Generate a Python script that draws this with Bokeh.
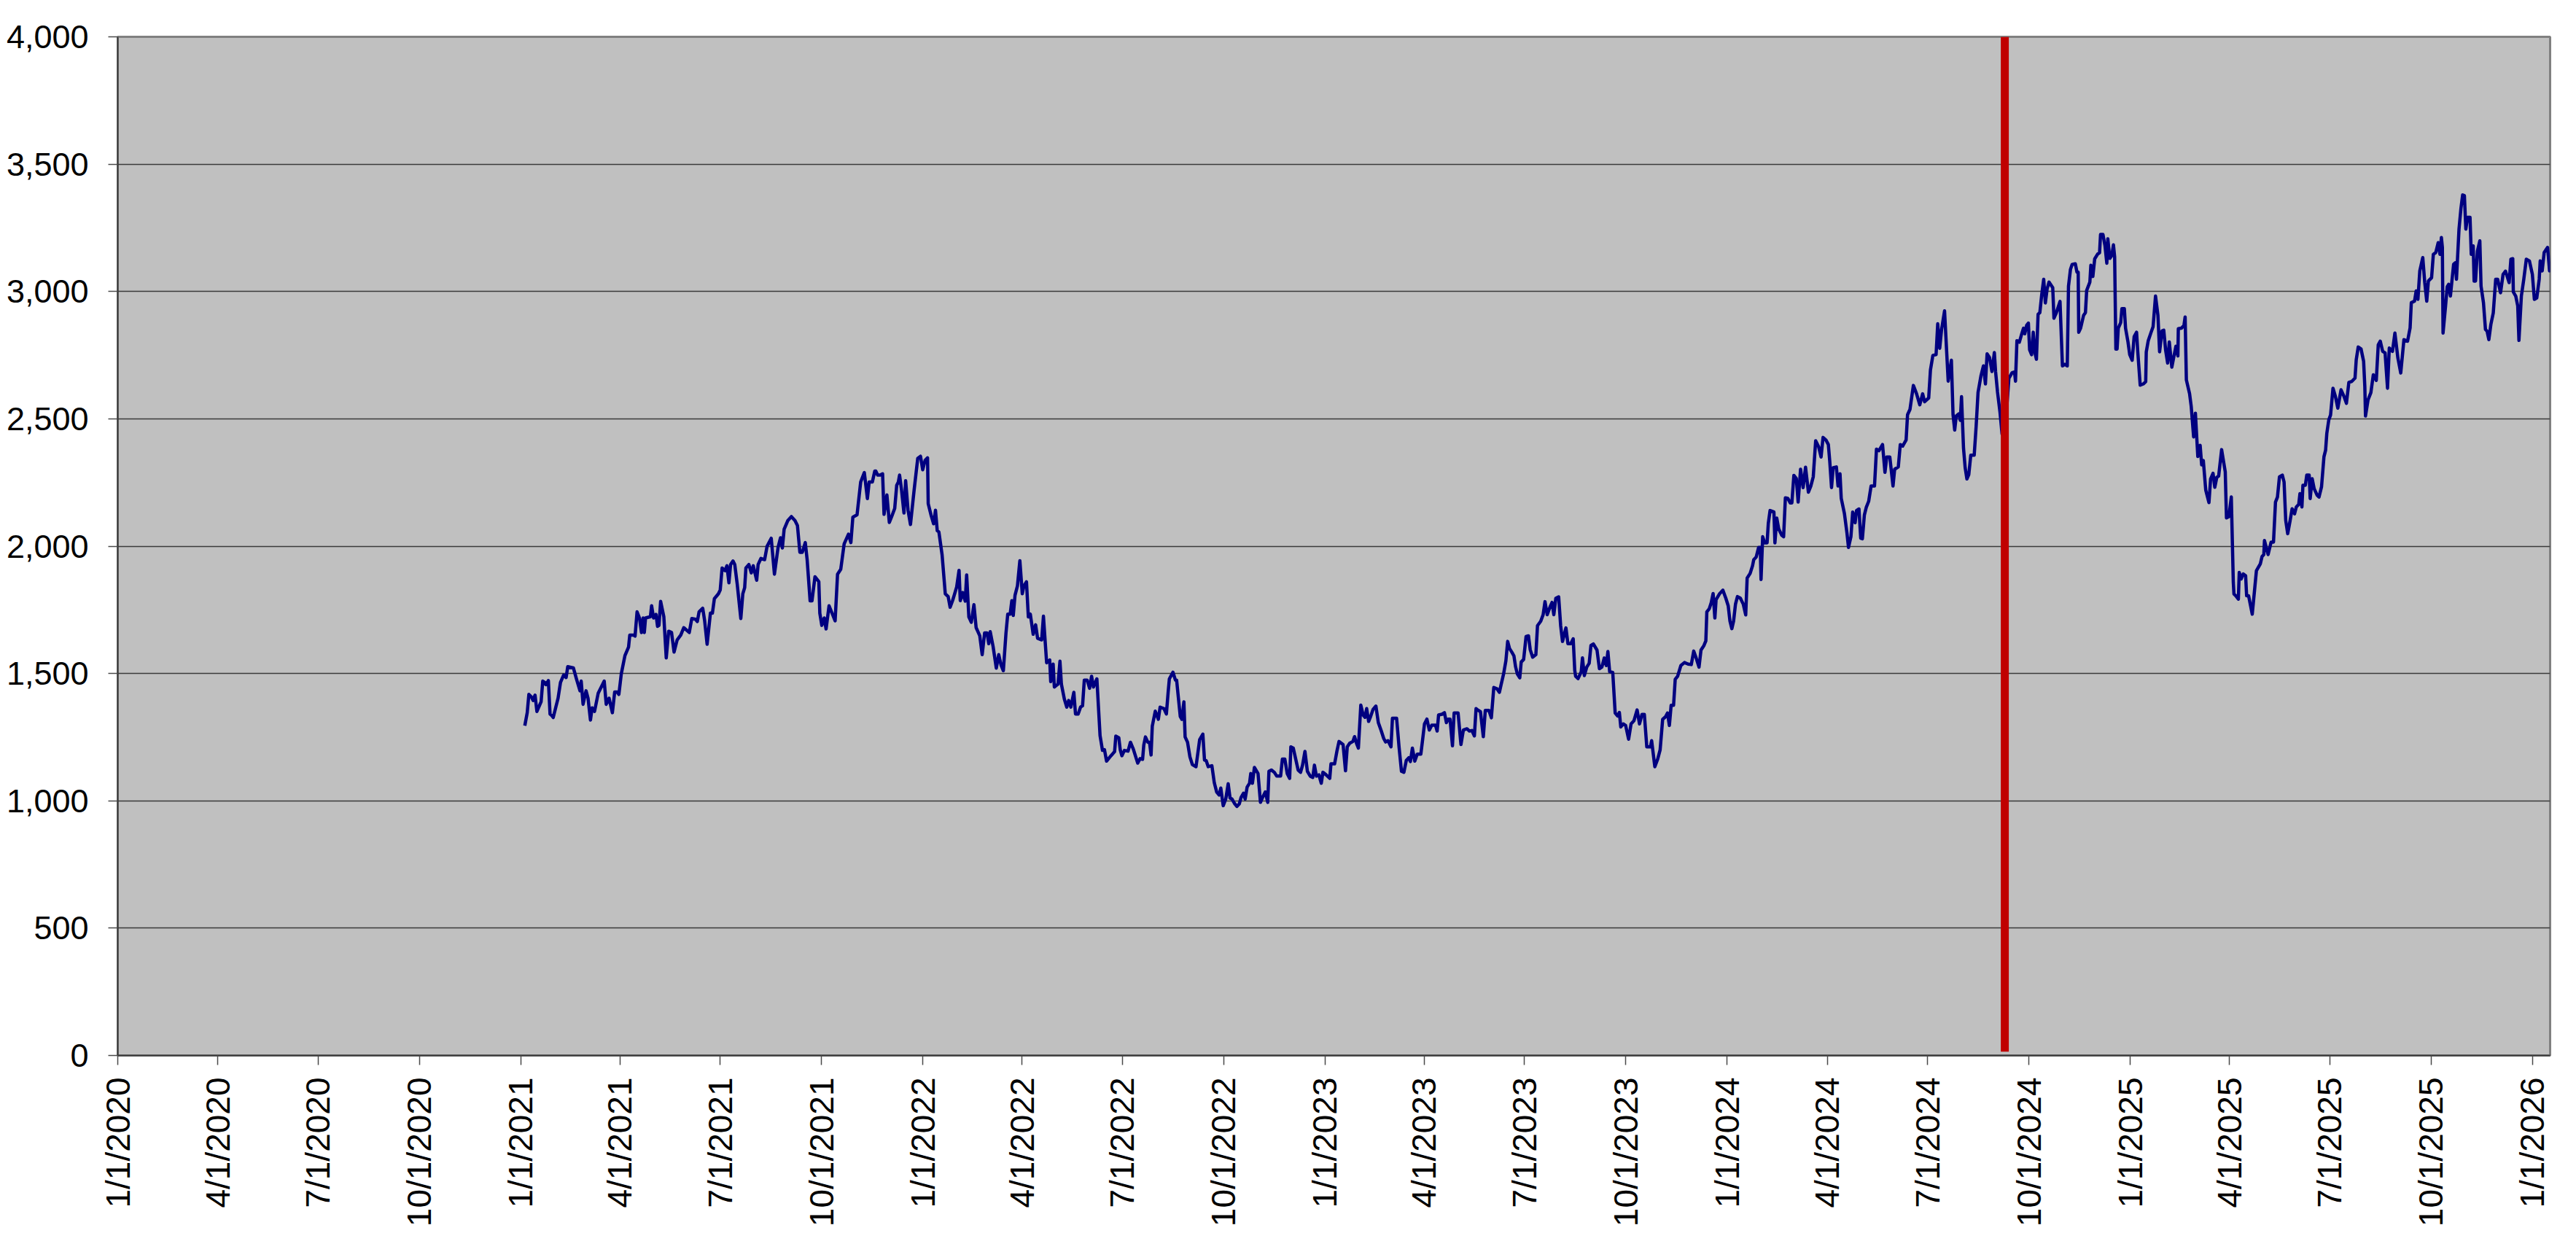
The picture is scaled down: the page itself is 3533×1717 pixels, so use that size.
import math
import pandas as pd
from bokeh.plotting import figure
from bokeh.models import Range1d, FixedTicker, CustomJSTickFormatter, NumeralTickFormatter
from bokeh.embed import file_html
from bokeh.resources import INLINE

# ---------------- data ----------------
# each pair: (days after SERIES_START, index value)
SERIES_START = "2021-01-01"

seg_2021 = [
    (3.5, 1295), (5.7, 1346), (7.2, 1418), (9.5, 1408), (11, 1394), (12.8, 1415), (14.5, 1351), (18.3, 1389),
    (19.8, 1470), (21.6, 1465), (22.7, 1456), (24.9, 1472), (26.4, 1341), (27.8, 1336), (29.3, 1327), (31.5, 1365),
    (33.7, 1403), (35.9, 1465), (38.8, 1494), (41, 1484), (42.5, 1527), (47.6, 1522), (50.3, 1480), (53.6, 1432),
    (54.7, 1470), (56.4, 1379), (59.1, 1432), (60.9, 1403), (63.1, 1317), (64.6, 1365), (66.8, 1351), (70.1, 1422),
    (75.6, 1470), (77.4, 1379), (80, 1403), (83, 1346), (85.1, 1427), (87.3, 1427), (88.9, 1418), (91.1, 1499),
    (94.4, 1570), (97.7, 1604), (98.8, 1651), (102.1, 1651), (103.6, 1647), (105.4, 1742), (107.6, 1718),
    (109.4, 1661), (110.9, 1718), (112, 1661), (113.1, 1718), (117.5, 1723), (118.6, 1766), (120.4, 1718),
    (122.6, 1732), (124, 1685), (125.3, 1689), (126.8, 1783), (129.7, 1723), (131.9, 1561), (134.1, 1666),
    (136.7, 1661), (139, 1584), (141.8, 1632), (145.1, 1651), (147.8, 1680), (152.8, 1661), (155.1, 1716),
    (158.4, 1713), (160.1, 1704), (161.7, 1742), (165, 1756), (166.7, 1709), (169, 1615), (172, 1737),
    (173.8, 1737), (175.6, 1794), (179.3, 1813), (180.9, 1828), (182.6, 1914), (185.3, 1904), (187, 1923),
    (188.8, 1856), (190.3, 1928), (192.5, 1942), (194.1, 1928), (196.3, 1852), (199.6, 1716), (201.4, 1813),
    (203.1, 1837), (204.2, 1914), (206.9, 1928), (209.1, 1895), (210.9, 1923), (214, 1866), (215.3, 1928),
    (217.9, 1952), (221.2, 1947), (223.4, 1999), (227.2, 2031), (230.1, 1890), (233.4, 1995), (235.6, 2033),
    (237.3, 1993), (238.9, 2066), (242.2, 2100), (245.5, 2116), (248.8, 2100), (251, 2081), (253.2, 1976),
    (255.4, 1976), (258.1, 2014), (259.8, 1947), (262.5, 1785), (264.2, 1785), (266.9, 1880), (270.4, 1861),
    (271.3, 1737), (273.1, 1689), (275.3, 1718), (277, 1675), (279.7, 1766), (285.2, 1707), (287.4, 1890),
    (290.3, 1909), (293.4, 2009), (297.3, 2047), (299.5, 2014), (301.3, 2114), (305.1, 2123), (308.4, 2252),
    (311.7, 2289), (314.5, 2187), (316.1, 2252), (319, 2252), (321.2, 2295),
]

seg_2022 = [
    (322.1, 2295), (323.8, 2279), (326.1, 2279), (328.3, 2284), (329.6, 2125), (332.2, 2201), (334.4, 2093),
    (336.6, 2117), (339.3, 2148), (341.1, 2239), (342.6, 2252), (343.7, 2279), (345.5, 2220), (347.7, 2130),
    (349.2, 2257), (351.4, 2141), (353.6, 2085), (356.9, 2220), (360.2, 2345), (362.7, 2353), (364.7, 2300),
    (366.9, 2337), (369.1, 2347), (369.7, 2167), (372.4, 2120), (374.6, 2088), (376.3, 2141), (377.9, 2061),
    (379.4, 2056), (382.3, 1966), (385.2, 1813), (387.8, 1802), (389.6, 1760), (391.8, 1786), (393.3, 1807),
    (395.5, 1839), (397.7, 1905), (398.8, 1786), (401, 1818), (403.3, 1784), (404.6, 1887), (406.6, 1722),
    (408.8, 1701), (411.2, 1770), (413.2, 1680), (416.5, 1648), (418.7, 1574), (420.9, 1659), (423.1, 1659),
    (424.7, 1617), (426, 1664), (428.6, 1606), (431.5, 1521), (433.7, 1574), (435.9, 1532), (437.9, 1511),
    (440.3, 1659), (441.9, 1733), (444.1, 1733), (445.6, 1786), (446.9, 1728), (448.5, 1807), (450.7, 1844),
    (452.9, 1943), (455.1, 1813), (456.6, 1844), (458.9, 1860), (460.6, 1722), (462.4, 1733), (465, 1654),
    (467.2, 1691), (469, 1638), (472.7, 1632), (474.3, 1725), (477.2, 1542), (480, 1553), (480.9, 1468),
    (483.1, 1537), (484.2, 1447), (486, 1453), (487.5, 1458), (489.3, 1548), (490.6, 1458), (493.3, 1399),
    (495.5, 1368), (497.2, 1394), (499.2, 1368), (501.9, 1426), (503.4, 1341), (505.8, 1341), (508, 1368),
    (509.8, 1373), (511.4, 1474), (514, 1474), (516.2, 1442), (518, 1489), (519.7, 1447), (522.8, 1479),
    (525.7, 1256), (527.9, 1198), (529.7, 1201), (531.6, 1156), (535.6, 1177), (538.9, 1193), (540, 1254),
    (542.7, 1248), (544, 1201), (545.5, 1177), (547.8, 1198), (551.1, 1195), (553.3, 1230), (555.9, 1203),
    (559.9, 1148), (562.1, 1166), (564.3, 1163), (565.4, 1219), (566.9, 1251), (569.1, 1230), (570.6, 1230),
    (572, 1180), (573.1, 1293), (575.8, 1352), (578.6, 1320), (580.2, 1368), (583.7, 1362), (585.9, 1341),
    (587.5, 1426), (588.6, 1479), (591.9, 1505), (594.1, 1474), (595.2, 1474), (598.5, 1331), (600, 1320),
    (601.8, 1389), (602.9, 1251), (605.1, 1230), (607.3, 1172), (609.5, 1142), (612.8, 1134), (616.1, 1240),
    (619, 1262), (620.5, 1160), (622, 1158), (623.9, 1134), (627.2, 1138), (629.4, 1071), (631.6, 1034),
    (633.8, 1023), (635.3, 1050), (637.5, 981),
]

seg_2023 = [
    (639.8, 1007), (642, 1067), (643.7, 1011), (645.5, 1007), (647.7, 990), (649.9, 978), (652.1, 988),
    (653.7, 1013), (655.9, 1030), (657.4, 1007), (659.2, 1054), (661.4, 1069), (662.5, 1107), (664, 1069),
    (665.8, 1131), (669.1, 1107), (671.3, 994), (673.5, 1016), (675.7, 1035), (677.9, 994), (679, 1116),
    (681.3, 1121), (683.9, 1112), (686.1, 1097), (689.6, 1097), (691.2, 1164), (693.4, 1164), (695.6, 1107),
    (697.8, 1088), (698.9, 1212), (701.1, 1207), (703.3, 1164), (705.5, 1121), (707.7, 1112), (709.5, 1140),
    (711.7, 1194), (713.9, 1116), (716.5, 1097), (718.8, 1092), (720.3, 1140), (722.1, 1097), (724.3, 1102),
    (726.5, 1069), (728, 1112), (730.9, 1102), (734.2, 1088), (735.3, 1145), (738.6, 1145), (740.8, 1197),
    (742.6, 1233), (746.3, 1221), (748.5, 1118), (750.1, 1212), (752.3, 1226), (755.2, 1233), (756.7, 1252),
    (758.5, 1226), (760.2, 1207), (762.4, 1376), (764.6, 1336), (766.2, 1328), (767.7, 1362), (769.5, 1312),
    (771.3, 1331), (773.5, 1359), (776.1, 1372), (778.3, 1307), (781, 1274), (783.2, 1245), (784.9, 1231),
    (787.1, 1236), (789.8, 1212), (791.1, 1324), (794.9, 1324), (797.1, 1212), (799.3, 1116), (801.5, 1112),
    (803.7, 1159), (805.9, 1169), (807.4, 1154), (809.2, 1207), (811.4, 1156), (813.6, 1183), (816.9, 1183),
    (818.5, 1240), (820.2, 1302), (822.4, 1321), (824.6, 1278), (826.8, 1297), (830.2, 1297), (831.7, 1274),
    (833, 1337), (836.1, 1340), (838.3, 1346), (840.1, 1307), (841.8, 1321), (843.4, 1321), (845.6, 1216),
    (847.1, 1345), (850.7, 1345), (853.3, 1221), (855.5, 1278), (858.8, 1283), (861, 1274), (863.2, 1276),
    (865.5, 1255), (867, 1362), (868.8, 1356), (871, 1350), (873.6, 1252), (875.4, 1355), (878.7, 1355),
    (880.9, 1326), (883.1, 1445), (886, 1440), (888.2, 1426), (889.7, 1455), (892, 1498), (894.1, 1550),
    (895.7, 1626), (897.4, 1598), (899.6, 1583), (901.4, 1569), (902.9, 1526), (904.5, 1498), (906.7, 1483),
    (908, 1545), (910.2, 1555), (912.4, 1645), (914.6, 1648), (916.2, 1593), (918.4, 1564), (921.3, 1574),
    (922.8, 1688), (925.7, 1705), (927.9, 1731), (929.6, 1782), (931.6, 1731), (934.5, 1765), (936, 1779),
    (937.6, 1731), (939.4, 1795), (942, 1801), (943.8, 1688), (945.5, 1626), (948.6, 1679), (950.4, 1617),
    (953, 1617), (955.2, 1636), (956.6, 1512),
]

seg_2024 = [
    (957.4, 1489), (959.6, 1480), (962.5, 1507), (963.6, 1561), (965.3, 1492), (967.5, 1525), (969.7, 1540),
    (971.3, 1610), (973.5, 1616), (976.8, 1592), (979, 1519), (981.2, 1525), (983.4, 1561), (985.2, 1531),
    (986.7, 1586), (988.3, 1507), (991.1, 1504), (993.3, 1345), (995.5, 1333), (997.1, 1347), (998.4, 1290),
    (1000.6, 1302), (1002.8, 1296), (1005.5, 1242), (1007.7, 1302), (1010.3, 1314), (1013.2, 1357),
    (1015.4, 1302), (1017.6, 1339), (1019.8, 1339), (1022, 1212), (1025.3, 1212), (1026.4, 1236),
    (1029.3, 1134), (1031.9, 1164), (1034.1, 1200), (1036.4, 1320), (1039, 1330), (1040.8, 1345),
    (1042.5, 1296), (1044.1, 1375), (1046.3, 1375), (1047.8, 1477), (1050, 1489), (1052.9, 1531),
    (1056.2, 1543), (1059.5, 1537), (1062.4, 1535), (1064.6, 1588), (1066.8, 1561), (1069.4, 1525),
    (1071.2, 1592), (1073.9, 1610), (1075.6, 1628), (1076.5, 1742), (1078.7, 1754), (1080.5, 1778),
    (1082.2, 1814), (1083.8, 1718), (1084.9, 1790), (1088.2, 1814), (1091.1, 1827), (1093.7, 1796),
    (1095.9, 1766), (1097.5, 1706), (1099.2, 1676), (1100.8, 1706), (1102.5, 1772), (1104.3, 1802),
    (1106.9, 1796), (1109.6, 1772), (1111.8, 1730), (1113.1, 1875), (1115.8, 1893), (1118, 1923),
    (1119.1, 1947), (1121.3, 1957), (1123.5, 1995), (1125, 1995), (1125.7, 1869), (1127.2, 2037),
    (1129, 2013), (1131.2, 2013), (1132.3, 2089), (1133.9, 2140), (1137.4, 2134), (1138.3, 2013),
    (1140, 2110), (1141.8, 2067), (1144.5, 2043), (1146.2, 2037), (1147.8, 2190), (1150, 2188),
    (1152.2, 2170), (1153.7, 2170), (1155.5, 2278), (1157.7, 2266), (1159.4, 2173), (1161.6, 2302),
    (1163.9, 2230), (1166.1, 2310), (1168.7, 2212), (1170.9, 2236), (1173.1, 2272), (1175.3, 2414),
    (1178, 2390), (1180.2, 2350), (1182, 2427), (1184.6, 2417), (1186.8, 2399), (1188.1, 2333),
    (1189.7, 2230), (1191.2, 2308), (1194.1, 2311), (1195.6, 2236), (1197.4, 2284), (1198.5, 2188),
    (1201.4, 2128), (1203.6, 2055), (1205.1, 1995), (1207.3, 2037), (1208.9, 2134), (1211.1, 2092),
    (1212.4, 2140), (1214.6, 2146), (1216.2, 2031), (1217.7, 2029), (1219.5, 2122), (1221.2, 2152),
    (1223.4, 2176), (1225.6, 2236), (1228.7, 2236), (1230.5, 2381), (1232.7, 2375), (1236, 2399),
    (1238.2, 2290), (1239.8, 2350), (1242.6, 2350), (1245.5, 2236), (1247, 2302), (1250.3, 2311),
    (1252.1, 2399), (1254.3, 2393), (1257.4, 2417), (1258.7, 2516), (1260.9, 2537), (1264, 2631),
    (1266.9, 2598), (1269.8, 2555), (1272.4, 2598), (1274.2, 2567),
]

seg_2025a = [
    (1277.9, 2582), (1279.5, 2692), (1281.7, 2749), (1284.6, 2752), (1286.1, 2873), (1287.9, 2777),
    (1289.6, 2851), (1292.3, 2924), (1295.6, 2648), (1298.5, 2730), (1300, 2516), (1301.5, 2456),
    (1302.9, 2511), (1305.1, 2519), (1306.6, 2494), (1307.7, 2587), (1309.5, 2385), (1311, 2308),
    (1312.6, 2264), (1314.3, 2281), (1316.1, 2357), (1319.2, 2357), (1321, 2473), (1322.7, 2604),
    (1325.4, 2670), (1327.6, 2708), (1329.4, 2637), (1330.9, 2755), (1333.1, 2741), (1335.3, 2686),
    (1337.5, 2760), (1338.6, 2686), (1340.4, 2604), (1342.6, 2527), (1344.5, 2440), (1347.5, 2470),
    (1350.7, 2659), (1353.6, 2681), (1355.8, 2684), (1356.7, 2648), (1358, 2807), (1360.2, 2801),
    (1362.4, 2834), (1364, 2856), (1365.1, 2834), (1366.8, 2867), (1368.4, 2876), (1369.5, 2771),
    (1371.3, 2752), (1372.8, 2840), (1374.4, 2758), (1375.7, 2734), (1377.2, 2911), (1378.8, 2917),
    (1380.5, 2988), (1382.3, 3048), (1383.8, 2955), (1385.4, 3010), (1387.1, 3037), (1390.5, 3015),
    (1391.6, 2895), (1393.8, 2917), (1397.1, 2961), (1399.3, 2708), (1401.5, 2714), (1403.7, 2708),
    (1404.8, 3021), (1406.6, 3087), (1408.1, 3106), (1411, 3109), (1412.5, 3076), (1413.6, 3076),
    (1414.1, 2840), (1415.8, 2856), (1418.5, 2906), (1420.2, 2917), (1421.3, 3004), (1424.2, 3037),
    (1425.1, 3103), (1426.9, 3059), (1428.6, 3128), (1431.3, 3147), (1433, 3152), (1433.9, 3224),
    (1436.1, 3224), (1437.9, 3180), (1439.6, 3111), (1440.5, 3207), (1442.3, 3130), (1444.1, 3141),
    (1445.6, 3183), (1446.7, 3136), (1447.8, 2774), (1448.9, 2774), (1450, 2856), (1452.2, 2878),
    (1453.3, 2933), (1455.5, 2933), (1456.6, 2856), (1458.8, 2802), (1460.4, 2752), (1462.6, 2730),
    (1464.4, 2823), (1466.6, 2840), (1467.7, 2763), (1469.9, 2632), (1472.7, 2637), (1474.9, 2646),
    (1475.4, 2763), (1477.2, 2807), (1479.8, 2840), (1481.6, 2862), (1483.8, 2982), (1486, 2906),
    (1487.5, 2763), (1489.7, 2845), (1491.3, 2848), (1493, 2769), (1494.8, 2719), (1496.3, 2802),
    (1498.6, 2703), (1500.8, 2752), (1502.3, 2785), (1504.1, 2747), (1504.5, 2854), (1507.4, 2856),
    (1509.6, 2867), (1510.7, 2900), (1511.8, 2653), (1514.7, 2599), (1516.2, 2549), (1518.4, 2429),
    (1520, 2522), (1522.2, 2352), (1524.3, 2396), (1525.7, 2319), (1527.2, 2336), (1529.4, 2220),
    (1532.3, 2171), (1533.8, 2264), (1536, 2286), (1537.6, 2231), (1539.4, 2270), (1541.1, 2275),
    (1543.8, 2379), (1547.1, 2292), (1548.2, 2111), (1550.4, 2116), (1552.6, 2193), (1554.4, 1859),
]

seg_2025b = [
    (1555, 1812), (1556.7, 1805), (1559, 1792), (1559.8, 1897), (1561.6, 1871), (1563.4, 1891),
    (1565.6, 1884), (1566.5, 1805), (1568.3, 1805), (1570.1, 1766), (1571.6, 1733), (1573.8, 1832),
    (1575.4, 1904), (1578.9, 1930), (1580.5, 1959), (1582.1, 1967), (1582.7, 2022), (1586, 1967),
    (1588.7, 2016), (1590.9, 2016), (1592.7, 2173), (1594.5, 2193), (1596.3, 2272), (1598.9, 2279),
    (1600.5, 2252), (1602, 2101), (1603.8, 2049), (1606, 2101), (1607.8, 2147), (1610, 2127),
    (1611.6, 2154), (1613.8, 2164), (1614.9, 2206), (1616.7, 2154), (1617.6, 2239), (1619.8, 2239),
    (1621.1, 2279), (1623.3, 2279), (1624.2, 2187), (1626, 2265), (1627.8, 2226), (1630.5, 2200),
    (1632.2, 2193), (1634.5, 2233), (1636.7, 2351), (1638.2, 2377), (1639.3, 2443), (1641.1, 2496),
    (1642.7, 2515), (1644.9, 2620), (1647.1, 2588), (1649.3, 2542), (1652.2, 2614), (1654.9, 2588),
    (1657.1, 2561), (1659.3, 2643), (1662, 2647), (1664.9, 2660), (1666, 2732), (1667.8, 2782),
    (1670.4, 2774), (1672.7, 2726), (1673.8, 2627), (1674.4, 2511), (1676.7, 2574), (1679.3, 2603),
    (1681.5, 2673), (1684.2, 2651), (1686, 2791), (1687.8, 2805), (1690, 2765), (1692.2, 2759),
    (1694.4, 2620), (1696, 2778), (1698.9, 2765), (1701.1, 2837), (1703.8, 2739), (1706.4, 2680),
    (1709.3, 2811), (1712.6, 2805), (1714.9, 2857), (1716, 2956), (1718.9, 2962), (1720.4, 3002),
    (1722, 2969), (1723.7, 3081), (1726.4, 3133), (1728.2, 3035), (1730, 2962), (1731.5, 3041),
    (1734.4, 3054), (1736, 3146), (1738.2, 3153), (1740.4, 3192), (1742, 3146), (1743.3, 3212),
    (1744.2, 3173), (1744.8, 2837), (1747.1, 2943), (1748.6, 3019), (1749.9, 3028), (1751.5, 2982),
    (1754.4, 3107), (1755.9, 3113), (1757, 3048), (1759.3, 3245), (1761, 3324), (1762.6, 3379),
    (1764.2, 3376), (1765.5, 3245), (1767, 3291), (1769.3, 3291), (1770.4, 3146), (1772.2, 3179),
    (1773, 3041), (1774.3, 3041), (1776, 3159), (1778.2, 3199), (1779.3, 3021), (1781.5, 2956),
    (1783.3, 2851), (1784.8, 2844), (1786.4, 2811), (1788.2, 2870), (1790.4, 2916), (1792.6, 3048),
    (1794.4, 3048), (1797, 2995), (1799.3, 3067), (1801.5, 3080), (1804.8, 3035), (1806.4, 3127),
    (1808.1, 3129), (1808.6, 2998), (1810.8, 2982), (1812.6, 2943), (1813.7, 2808), (1815.9, 2982),
    (1818.1, 3048), (1820.4, 3127), (1823.2, 3120), (1825.9, 3067), (1827.7, 2969), (1829.9, 2975),
    (1832.1, 3048), (1833, 3120), (1834.8, 3081), (1836.6, 3153), (1839.7, 3173), (1841.5, 3081),
    (1843.7, 3100),
]

quarter_ticks = [
    "2020-01-01", "2020-04-01", "2020-07-01", "2020-10-01",
    "2021-01-01", "2021-04-01", "2021-07-01", "2021-10-01",
    "2022-01-01", "2022-04-01", "2022-07-01", "2022-10-01",
    "2023-01-01", "2023-04-01", "2023-07-01", "2023-10-01",
    "2024-01-01", "2024-04-01", "2024-07-01", "2024-10-01",
    "2025-01-01", "2025-04-01", "2025-07-01", "2025-10-01",
    "2026-01-01",
]
x_start, x_end = "2020-01-01", "2026-01-17"
y_ticks = [0, 500, 1000, 1500, 2000, 2500, 3000, 3500, 4000]
marker_date = "2024-09-09"
marker_span = [15, 4000]

# ---------------- build ----------------
pairs = seg_2021 + seg_2022 + seg_2023 + seg_2024 + seg_2025a + seg_2025b
base = pd.Timestamp(SERIES_START)
dates = [base + pd.Timedelta(days=d) for d, _ in pairs]
values = [v for _, v in pairs]

p = figure(
    width=3532, height=1716,
    x_axis_type="datetime",
    x_range=Range1d(pd.Timestamp(x_start), pd.Timestamp(x_end)),
    y_range=Range1d(0, 4000),
    output_backend="svg", toolbar_location=None,
    min_border_left=161, min_border_right=35, min_border_top=50, min_border_bottom=269,
    background_fill_color="#C0C0C0", border_fill_color="white",
)
p.outline_line_color = "#808080"
p.outline_line_width = 3

p.line(dates, values, line_color="#000080", line_width=4.5, line_join="round")
mdate = pd.Timestamp(marker_date)
p.line([mdate, mdate], marker_span, line_color="#C00000", line_width=11, line_cap="butt")

xa = p.xaxis[0]
ya = p.yaxis[0]
xa.ticker = FixedTicker(ticks=[pd.Timestamp(t).value // 10**6 for t in quarter_ticks])
xa.formatter = CustomJSTickFormatter(code="""
const d = new Date(tick);
return (d.getUTCMonth() + 1) + "/" + d.getUTCDate() + "/" + d.getUTCFullYear();
""")
xa.major_label_orientation = math.pi / 2
xa.major_tick_out = 13
xa.major_label_standoff = 17

ya.ticker = FixedTicker(ticks=y_ticks)
ya.formatter = NumeralTickFormatter(format="0,0")
ya.major_tick_out = 13
ya.major_label_standoff = 27

for ax in (xa, ya):
    ax.axis_line_color = "#3a3a3a"
    ax.axis_line_width = 2
    ax.major_tick_line_color = "#4a4a4a"
    ax.major_tick_line_width = 1.5
    ax.major_tick_in = 0
    ax.minor_tick_line_color = None
    ax.major_label_text_font = "Liberation Sans"
    ax.major_label_text_color = "black"
xa.major_label_text_font_size = "46px"
ya.major_label_text_font_size = "45px"

p.xgrid.grid_line_color = None
p.ygrid.grid_line_color = "#3a3a3a"
p.ygrid.grid_line_width = 1.5

open("out.html", "w").write(file_html(p, INLINE))
